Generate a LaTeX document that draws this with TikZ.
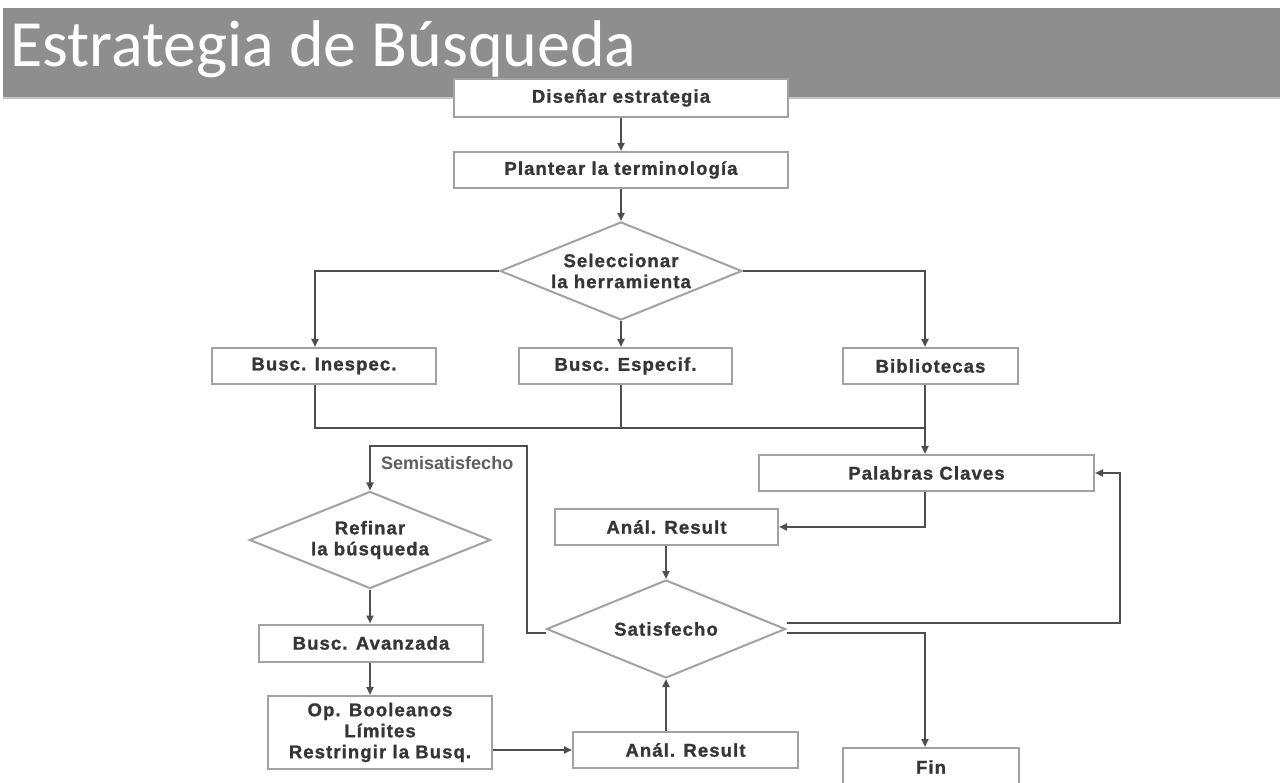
\documentclass[tikz,border=0pt]{standalone}
\usepackage{fontspec}
\usepackage{xcolor}
\usepackage{tikz}
\usetikzlibrary{shapes,arrows.meta,positioning,calc}
\newfontfamily\titlefont{Carlito}
\newfontfamily\boxfont[LetterSpace=6, BoldFeatures={FakeBold=1.2}]{Liberation Sans}
\newfontfamily\labelfont{Liberation Sans}
\definecolor{barra}{HTML}{8E8E8E}
\definecolor{sombra}{HTML}{C4C4C4}
\definecolor{borde}{HTML}{A2A2A2}
\definecolor{linea}{HTML}{4E4E4E}
\definecolor{texto}{HTML}{363636}

\begin{document}
\begin{tikzpicture}[x=1pt, y=-1pt,
    box/.style={rectangle, draw=borde, line width=2pt, fill=white, minimum height=36, inner sep=0,
        text=texto, align=center, font=\boxfont\bfseries\fontsize{18.5}{21}\selectfont},
    decision/.style={diamond, draw=borde, line width=2pt, fill=white, aspect=2.46, inner sep=0,
        text=texto, align=center, font=\boxfont\bfseries\fontsize{18.5}{21}\selectfont},
    line/.style={draw=linea, line width=2pt},
    flow/.style={line, -{Triangle[length=8pt, width=7pt]}}]
    \useasboundingbox (0, 0) rectangle (1286, 783);
    \clip (0, 0) rectangle (1286, 783);
    \fill[white] (0, 0) rectangle (1286, 783);

    % Titulo
    \fill[barra] (3, 8) rectangle (1280, 97);
    \draw[sombra, line width=2pt] (3, 98) -- (1280, 98);
    \node (titulo) at (10, 67) [anchor=base west, inner sep=0, text=white,
        font=\titlefont\fontsize{66}{66}\selectfont] {Estrategia de Búsqueda};

    % Estrategia
    \node (disenar) at (621, 98) [box, minimum width=334, minimum height=38] {Diseñar estrategia};
    \node (plantear) at (621, 170) [box, minimum width=334] {Plantear la terminología};
    \node (sel) at (621, 271) [decision, minimum width=242, minimum height=98] {Seleccionar\\la herramienta};

    % Herramientas
    \node (inesp) at (324, 366) [box, minimum width=224] {Busc. Inespec.};
    \node (especif) at (625.5, 366) [box, minimum width=213] {Busc. Especif.};
    \node (biblio) at (930.5, 366) [box, minimum width=175] {Bibliotecas};
    \coordinate (junta) at (925, 428);

    % Resultados
    \node (palabras) at (926.5, 473) [box, minimum width=335] {Palabras Claves};
    \node (analA) at (666.5, 527) [box, minimum width=223, minimum height=35] {Anál. Result};
    \node (satis) at (666, 629) [decision, minimum width=239, minimum height=98] {Satisfecho};
    \node (fin) at (931, 767) [box, minimum width=176, minimum height=38] {Fin};
    \coordinate (vuelta) at (1120, 623);

    % Refinar
    \node (refinar) at (370, 540) [decision, minimum width=241, minimum height=97] {Refinar\\la búsqueda};
    \node (avanz) at (371, 643) [box, minimum width=224, minimum height=37] {Busc. Avanzada};
    \node (opbool) at (380, 732.5) [box, minimum width=224, minimum height=73] {Op. Booleanos\\Límites\\Restringir la Busq.};
    \node (analB) at (685.5, 750) [box, minimum width=225] {Anál. Result};
    \coordinate (codo) at (527, 446);
    \node (semi) at (381, 463) [anchor=west, inner sep=0, text=texto!80,
        font=\labelfont\bfseries\fontsize{18}{21}\selectfont] {Semisatisfecho};

    % Conexiones
    \draw[flow] (disenar) -- (plantear);
    \draw[flow] (plantear) -- (sel);
    \draw[flow] (sel.west) -| ([xshift=-9pt]inesp.north);
    \draw[flow] (sel.south) -- ([xshift=-4.5pt]especif.north);
    \draw[flow] (sel.east) -| ([xshift=-5.5pt]biblio.north);
    \draw[line] ([xshift=-9pt]inesp.south) |- (junta);
    \draw[line] ([xshift=-4.5pt]especif.south) -- ([xshift=-4.5pt]especif.south |- junta);
    \draw[flow] ([xshift=-5.5pt]biblio.south) -- ([xshift=-5.5pt]biblio.south |- palabras.north);
    \draw[flow] ([xshift=-1.5pt]palabras.south) |- (analA.east);
    \draw[flow] (satis.north |- analA.south) -- (satis.north);
    \draw[flow] (satis.south |- analB.north) -- (satis.south);
    \draw[flow] (analB.west -| opbool.east) -- (analB.west);
    \draw[flow] (refinar.south) -- (refinar.south |- avanz.north);
    \draw[flow] (refinar.south |- avanz.south) -- (refinar.south |- opbool.north);
    \draw[flow] ([yshift=-4pt]satis.west) -| (codo) -| (refinar.north);
    \draw[flow] ([yshift=6pt]satis.east) -- (vuelta) |- (palabras.east);
    \draw[flow] ([yshift=-4pt]satis.east) -| ([xshift=-6pt]fin.north);
\end{tikzpicture}
\end{document}
